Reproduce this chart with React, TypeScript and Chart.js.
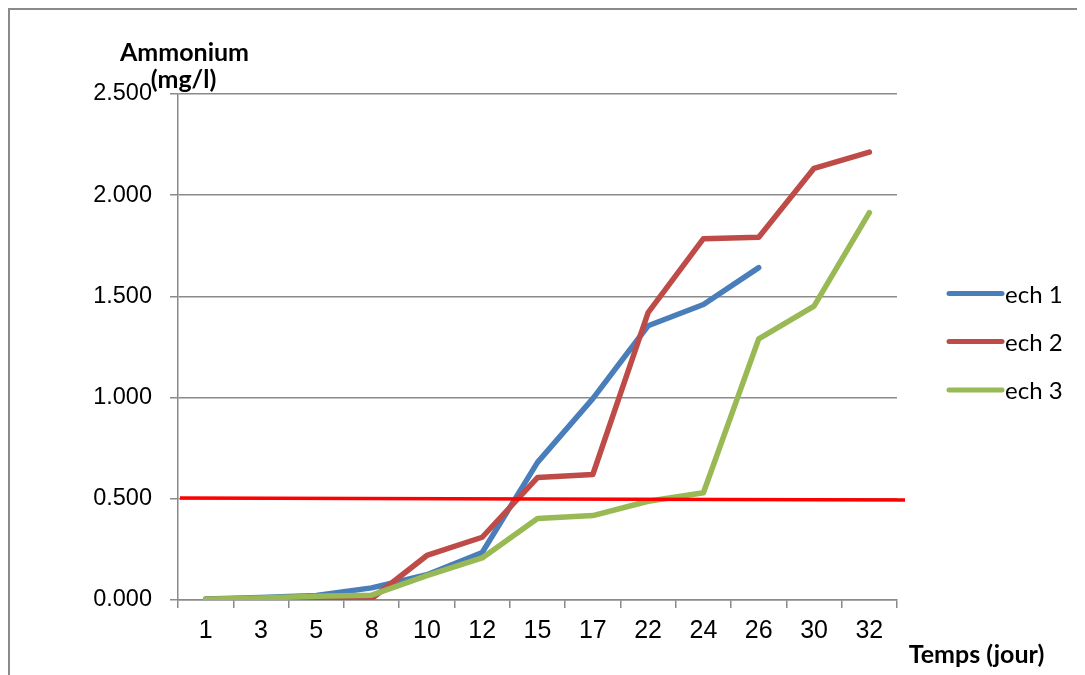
import React, { useEffect, useRef } from "react";
import { Chart, registerables } from "chart.js";

Chart.register(...registerables);

// Sampling days (x axis categories)
const days = ["1", "3", "5", "8", "10", "12", "15", "17", "22", "24", "26", "30", "32"];

// Ammonium concentration (mg/l) per sample
const ech1 = [0.005, 0.012, 0.022, 0.06, 0.125, 0.235, 0.68, 0.995, 1.355, 1.46, 1.642, null, null];
const ech2 = [0.003, 0.004, 0.008, 0.006, 0.22, 0.31, 0.605, 0.62, 1.42, 1.785, 1.792, 2.133, 2.213];
const ech3 = [0.004, 0.01, 0.018, 0.024, 0.12, 0.208, 0.403, 0.417, 0.488, 0.53, 1.29, 1.452, 1.914];

const seriesNames = ["ech 1", "ech 2", "ech 3"];
const seriesColors = ["#4A7EBB", "#BE4B48", "#98B954"];

// Limit line (mg/l), drawn slightly tilted from left to right
const limitStart = 0.504;
const limitEnd = 0.494;

const yMin = 0;
const yMax = 2.5;
const yStep = 0.5;

const GRID = "#8a8a8a";
const LABEL_FONT = "'Liberation Sans', Arial, sans-serif";
const TITLE_FONT = "Lato, 'Open Sans', sans-serif";

const overlayPlugin = {
  id: "overlay",
  afterDatasetsDraw(chart: any) {
    const { ctx, chartArea, scales } = chart;
    const y = scales.y;
    ctx.save();
    ctx.strokeStyle = "#FF0000";
    ctx.lineWidth = 3.5;
    ctx.beginPath();
    ctx.moveTo(chartArea.left + 2, y.getPixelForValue(limitStart));
    ctx.lineTo(chartArea.right + 8, y.getPixelForValue(limitEnd));
    ctx.stroke();
    ctx.restore();
  },
  afterDraw(chart: any) {
    const { ctx, chartArea } = chart;
    ctx.save();
    // y axis title
    ctx.fillStyle = "#000";
    ctx.textAlign = "center";
    ctx.textBaseline = "alphabetic";
    ctx.font = `bold 25px ${TITLE_FONT}`;
    ctx.fillText("Ammonium", chartArea.left + 6.5, 51);
    ctx.fillText("(mg/l)", chartArea.left + 5.5, 78);
    // x axis title
    ctx.fillText("Temps (jour)", chartArea.right + 79.5, 653);

    // legend
    const legendY = [283.5, 331.5, 380];
    chart.data.datasets.forEach((ds: any, i: number) => {
      const ly = legendY[i];
      ctx.strokeStyle = ds.borderColor;
      ctx.lineWidth = 5;
      ctx.lineCap = "round";
      ctx.beginPath();
      ctx.moveTo(chartArea.right + 52, ly);
      ctx.lineTo(chartArea.right + 105, ly);
      ctx.stroke();
      ctx.fillStyle = "#000";
      ctx.textAlign = "left";
      ctx.font = `24px ${TITLE_FONT}`;
      ctx.fillText(ds.label, chartArea.right + 108, ly + 9);
    });
    ctx.restore();
  },
};

export default function App() {
  const canvasRef = useRef<HTMLCanvasElement | null>(null);

  useEffect(() => {
    document.body.style.overflow = "hidden";
    const canvas = canvasRef.current;
    if (!canvas) return;
    const seriesValues = [ech1, ech2, ech3];
    const chart = new Chart(canvas, {
      type: "line",
      data: {
        labels: days,
        datasets: seriesValues.map((values, i) => ({
          label: seriesNames[i],
          data: values,
          borderColor: seriesColors[i],
          backgroundColor: seriesColors[i],
          borderWidth: 5.5,
          pointRadius: 0,
          tension: 0,
          borderCapStyle: "round",
          borderJoinStyle: "round",
          spanGaps: false,
          order: 3 - i,
        })),
      },
      options: {
        responsive: false,
        animation: false,
        devicePixelRatio: 1,
        layout: { padding: { left: 0, top: 84, right: 188, bottom: 0 } },
        plugins: {
          legend: { display: false },
          tooltip: { enabled: false },
          title: { display: false },
        },
        scales: {
          x: {
            type: "category",
            offset: true,
            afterFit(scale: any) {
              scale.height = 75;
            },
            grid: {
              offset: true,
              drawOnChartArea: false,
              drawTicks: true,
              tickLength: 8,
              color: GRID,
              lineWidth: 1.5,
            },
            border: { display: true, color: GRID, width: 1.5 },
            ticks: {
              color: "#000",
              font: { family: LABEL_FONT, size: 25 },
              padding: 8,
              maxRotation: 0,
              autoSkip: false,
            },
          },
          y: {
            min: yMin,
            max: yMax,
            afterFit(scale: any) {
              scale.width = 168;
            },
            grid: {
              color: GRID,
              lineWidth: 1.5,
              drawTicks: true,
              tickLength: 8,
            },
            border: { display: true, color: GRID, width: 1.5 },
            ticks: {
              stepSize: yStep,
              color: "#000",
              font: { family: LABEL_FONT, size: 23.5 },
              padding: 18,
              callback: (v: any) => Number(v).toFixed(3),
            },
          },
        },
      },
      plugins: [overlayPlugin],
    });
    return () => chart.destroy();
  }, []);

  return (
    <div
      style={{
        position: "relative",
        width: 1077,
        height: 667,
        boxSizing: "border-box",
        borderLeft: `2px solid ${GRID}`,
        borderTop: `2px solid ${GRID}`,
      }}
    >
      <canvas
        ref={canvasRef}
        width={1075}
        height={665}
        style={{ position: "absolute", left: 0, top: 0, width: 1075, height: 665 }}
      />
    </div>
  );
}
